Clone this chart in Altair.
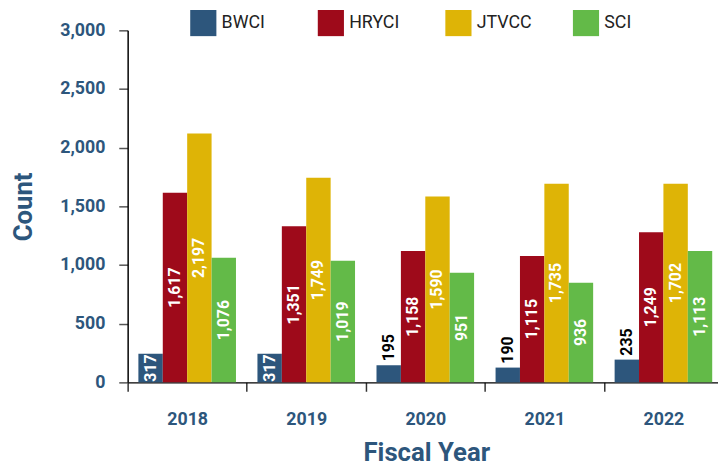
import altair as alt
import pandas as pd

years = ["2018", "2019", "2020", "2021", "2022"]
facilities = ["BWCI", "HRYCI", "JTVCC", "SCI"]
colors = ["#2d567c", "#9e0a1a", "#deb406", "#63ba48"]

# bar heights as drawn against the axis
bwci_bars = [244, 244, 146, 126, 194]
hryci_bars = [1616, 1330, 1120, 1078, 1280]
jtvcc_bars = [2121, 1743, 1583, 1692, 1692]
sci_bars = [1061, 1036, 935, 850, 1120]

# value labels printed on the bars
bwci_labels = ["317", "317", "195", "190", "235"]
hryci_labels = ["1,617", "1,351", "1,158", "1,115", "1,249"]
jtvcc_labels = ["2,197", "1,749", "1,590", "1,735", "1,702"]
sci_labels = ["1,076", "1,019", "951", "936", "1,113"]

bars = {"BWCI": bwci_bars, "HRYCI": hryci_bars, "JTVCC": jtvcc_bars, "SCI": sci_bars}
labels = {"BWCI": bwci_labels, "HRYCI": hryci_labels, "JTVCC": jtvcc_labels, "SCI": sci_labels}

rows = []
for f in facilities:
    for i, y in enumerate(years):
        rows.append({"year": y, "facility": f, "count": bars[f][i], "label": labels[f][i]})
df = pd.DataFrame(rows)
df["mid"] = df["count"] / 2
df["inside"] = df["count"] >= 200

FONT = "Roboto"
BLUE = "#2d567c"

x = alt.X(
    "year:N", sort=years,
    scale=alt.Scale(range=[0, 602], paddingInner=0, paddingOuter=0),
    axis=alt.Axis(
        title="Fiscal Year", labelAngle=0, tickBand="extent", tickSize=9,
        tickColor="#333", tickWidth=1.5, domainColor="#000", domainWidth=1.5,
        labelFont=FONT, labelFontSize=18, labelFontWeight="bold", labelColor=BLUE,
        labelBaseline="alphabetic", labelPadding=34,
        titleFont=FONT, titleFontSize=26, titleFontWeight="bold",
        titleColor=BLUE, titleX=302, titleY=79, titleBaseline="alphabetic",
    ),
)
xo = alt.XOffset("facility:N", sort=facilities,
                 scale=alt.Scale(paddingOuter=0.44, paddingInner=0))

y_axis = alt.Axis(
    title="Count", values=[0, 500, 1000, 1500, 2000, 2500, 3000],
    labelExpr="format(datum.value, ',')",
    grid=False, tickSize=9, tickColor="#555", tickWidth=1.5, domainColor="#000",
    domainWidth=1.5, labelFont=FONT, labelFontSize=18, labelFontWeight="bold",
    labelColor=BLUE, labelPadding=14, titleFont=FONT, titleFontSize=26,
    titleFontWeight="bold", titleColor=BLUE, titleAngle=270, titleX=-105, titleY=178,
    titleAlign="center", titleBaseline="middle",
)
yscale = alt.Scale(domain=[0, 3000], nice=False)

base = alt.Chart(df)

bar_layer = base.mark_bar().encode(
    x=x, xOffset=xo,
    y=alt.Y("count:Q", scale=yscale, axis=y_axis),
    color=alt.Color(
        "facility:N", sort=facilities,
        scale=alt.Scale(domain=facilities, range=colors),
        legend=alt.Legend(
            title=None, orient="none", legendX=63, legendY=-21, direction="horizontal",
            columns=4, gridAlign="all", symbolType="square", symbolSize=700,
            symbolStrokeWidth=0, labelFont=FONT, labelFontSize=18, labelColor="#222",
            labelOffset=5, columnPadding=41,
        ),
    ),
)

inside_text = base.transform_filter("datum.inside").mark_text(
    angle=270, align="center", baseline="middle", color="white",
    font=FONT, fontSize=16, fontWeight="bold",
).encode(x=x, xOffset=xo, y=alt.Y("mid:Q", scale=yscale, axis=y_axis), text="label:N")

outside_text = base.transform_filter("!datum.inside").mark_text(
    angle=270, align="left", baseline="middle", color="black", dx=4,
    font=FONT, fontSize=16, fontWeight="bold",
).encode(x=x, xOffset=xo, y=alt.Y("count:Q", scale=yscale, axis=y_axis), text="label:N")

chart = alt.layer(bar_layer, inside_text, outside_text).properties(
    width=597, height=356,
    autosize=alt.AutoSizeParams(type="none"),
    padding={"left": 121, "top": 20, "right": 0, "bottom": 84},
).configure_view(stroke=None)

chart.save("out.html", embed_options={"renderer": "svg", "actions": False})
